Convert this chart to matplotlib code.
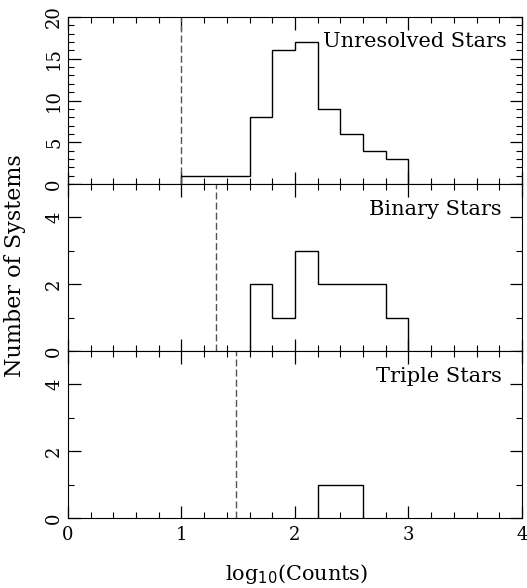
import matplotlib

matplotlib.use("Agg")
import matplotlib.pyplot as plt
from matplotlib.ticker import MultipleLocator

# histogram data: bin edges (log10 counts) and number of systems
unresolved_edges = [1.0, 1.6, 1.8, 2.0, 2.2, 2.4, 2.6, 2.8, 3.0]
unresolved_counts = [1, 8, 16, 17, 9, 6, 4, 3]
binary_edges = [1.6, 1.8, 2.0, 2.2, 2.8, 3.0]
binary_counts = [2, 1, 3, 2, 1]
triple_edges = [2.2, 2.6]
triple_counts = [1]

limits = [1.0, 1.3, 1.48]
labels = ["Unresolved Stars", "Binary Stars", "Triple Stars"]
label_x = [0.967, 0.956, 0.956]
label_y = [0.855, 0.845, 0.845]

plt.rcParams["font.family"] = ["DejaVu Serif"]

fig, axes = plt.subplots(3, 1, sharex=True, figsize=(5.27, 5.88), dpi=100)
fig.subplots_adjust(left=0.129, right=0.9905, top=0.971, bottom=0.119, hspace=0)

panels = [
    (unresolved_edges, unresolved_counts, 20, [0, 5, 10, 15, 20]),
    (binary_edges, binary_counts, 5, [0, 2, 4]),
    (triple_edges, triple_counts, 5, [0, 2, 4]),
]

for i, (ax, (edges, counts, ymax, yticks)) in enumerate(zip(axes, panels)):
    ax.stairs(counts, edges, baseline=0, color="black", linewidth=1.0)
    ax.axvline(limits[i], color="#555555", linestyle=(0, (5, 2.3)), linewidth=1.0)
    ax.set_xlim(0, 4)
    ax.set_ylim(0, ymax)
    ax.xaxis.set_major_locator(MultipleLocator(1))
    ax.xaxis.set_minor_locator(MultipleLocator(0.2))
    ax.set_yticks(yticks)
    ax.yaxis.set_minor_locator(MultipleLocator(1))
    ax.tick_params(which="both", direction="in", top=True, right=True, labelsize=13)
    ax.tick_params(which="major", length=9, width=0.9)
    ax.tick_params(which="minor", length=4.5, width=0.8)
    for t in ax.get_yticklabels():
        t.set_rotation(90)
        t.set_va("center")
    ax.text(label_x[i], label_y[i], labels[i], transform=ax.transAxes,
            ha="right", va="center", fontsize=15)

axes[2].set_xticks([0, 1, 2, 3, 4])
axes[2].set_xticklabels(["0", "1", "2", "3", "4"])
axes[2].tick_params(axis="x", pad=6)

fig.text(0.028, 0.548, "Number of Systems", rotation=90, ha="center", va="center", fontsize=16)
fig.text(0.563, 0.003, "log$_{10}$(Counts)", ha="center", va="bottom", fontsize=15)

fig.savefig("out.png", dpi=100)
